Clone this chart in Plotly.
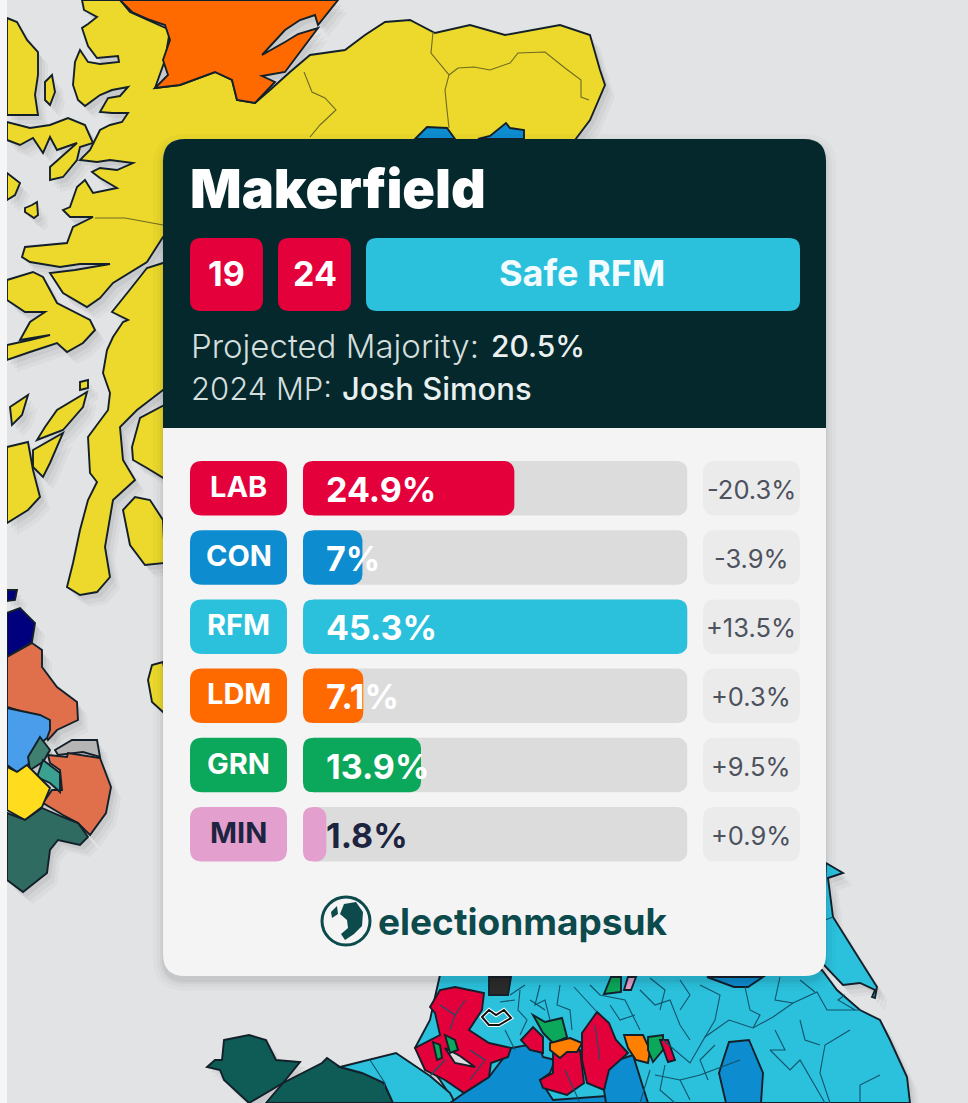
import plotly.graph_objects as go

# ---------- chart data ----------
parties = ["LAB", "CON", "RFM", "LDM", "GRN", "MIN"]
shares = [24.9, 7, 45.3, 7.1, 13.9, 1.8]
changes = ["-20.3%", "-3.9%", "+13.5%", "+0.3%", "+9.5%", "+0.9%"]
party_colors = ["#e4003b", "#0d8ccf", "#2bc1dd", "#ff6a00", "#0ba75a", "#e39fcd"]
label_colors = ["#ffffff", "#ffffff", "#ffffff", "#ffffff", "#ffffff", "#1d2440"]
seat_title = "Makerfield"
history = ["19", "24"]
rating = "Safe RFM"
majority = "20.5%"
mp_name = "Josh Simons"
brand = "electionmapsuk"

W, H = 968, 1103
TRACK_MAX = 45.3
MIN_BAR = 2.75
TRACK_L, TRACK_R = 303, 687.5
ROW_TOP, ROW_PITCH, ROW_H = 461, 69.2, 54.5
BAR_R = 10


def path(pts, close=True, dx=0, dy=0):
    s = "M" + " L".join(f"{x+dx},{y+dy}" for x, y in pts)
    return s + (" Z" if close else "")


def rrect(x0, y0, x1, y1, r, r_bottom=None):
    rb = r if r_bottom is None else r_bottom
    return (f"M{x0+r},{y0} L{x1-r},{y0} Q{x1},{y0} {x1},{y0+r} L{x1},{y1-rb} Q{x1},{y1} {x1-rb},{y1} "
            f"L{x0+rb},{y1} Q{x0},{y1} {x0},{y1-rb} L{x0},{y0+r} Q{x0},{y0} {x0+r},{y0} Z")


# ---------- decorative background map outlines ----------
YEL, CY, BL, OR, RD = "#ecd92c", "#2bc1dd", "#0d8ccf", "#ff6a00", "#e4003b"
regions = [
    # Scottish mainland, traced along the west coast
    (YEL, [(82,0),(84,10),(97,17),(88,24),(82,28),(88,46),(97,58),(118,56),(119,62),(100,64),(88,62),(80,50),(75,62),(73,85),
           (78,100),(85,106),(100,95),(112,90),(128,87),(120,96),(108,98),(100,112),(112,113),(128,113),(122,122),(110,125),(100,130),
           (90,150),(80,160),(97,162),(110,160),(133,163),(117,170),(100,168),(92,172),(100,178),(117,188),(93,193),(85,180),(77,187),
           (70,207),(63,210),(70,217),(93,217),(73,227),(67,243),(25,247),(22,257),(30,262),(60,267),(80,264),(110,264),(75,270),(50,273),
           (63,293),(87,307),(100,298),(113,283),(147,262),(163,237),(170,238),(170,262),(163,263),(147,268),(128,292),(112,312),(128,320),(123,322),
           (113,337),(107,350),(103,373),(110,393),(108,410),(88,437),(90,473),(97,482),(88,500),(80,530),(73,563),(67,587),(80,595),(97,592),
           (110,577),(105,547),(113,500),(135,480),(123,460),(120,427),(137,410),(163,390),(170,392),(170,402),(140,418),(132,447),(133,460),(147,468),(170,482),
           (600,140),(575,140),(590,120),(605,85),(600,70),(590,35),(560,25),(505,35),(470,25),(435,33),(410,20),(385,22),(365,35),
           (345,50),(310,55),(290,72),(270,90),(255,103),(237,100),(232,80),(215,72),(180,85),(155,88),(165,60),(170,30),(130,12),(120,0)]),
    (OR, [(120,0),(132,12),(150,20),(165,25),(170,40),(163,60),(168,75),(155,88),(180,85),(215,72),(232,80),(237,100),(255,103),
          (275,82),(262,76),(285,72),(300,52),(318,28),(298,34),(285,42),(262,55),(285,30),(300,20),(315,15),(318,25),(338,0)]),
    (BL, [(415,139),(427,127),(447,128),(455,139)]),
    (BL, [(478,139),(490,136),(506,123),(510,128),(524,130),(524,139)]),
    # Western isles
    (YEL, [(7,18),(17,22),(27,40),(38,52),(38,75),(35,95),(38,115),(7,115)]),
    (YEL, [(45,82),(52,75),(55,92),(50,105),(45,100)]),
    (YEL, [(7,140),(20,145),(33,138),(43,153),(50,137),(57,150),(77,143),(50,167),(50,180),(63,177),(77,160),(80,147),(93,143),(85,125),(68,118),(50,125),(30,128),(7,122)]),
    (YEL, [(7,173),(20,183),(15,195),(7,200)]),
    (YEL, [(25,208),(32,205),(37,202),(38,215),(34,218),(25,212)]),
    (YEL, [(7,280),(33,272),(43,277),(57,303),(90,320),(95,330),(83,343),(67,352),(57,343),(30,352),(7,360),(7,345),(30,340),(50,335),(20,340),(30,322),(45,312),(25,312),(7,300)]),
    (YEL, [(80,382),(88,380),(88,388),(80,390)]),
    (YEL, [(45,427),(57,410),(87,392),(83,407),(63,430),(37,440)]),
    (YEL, [(33,450),(63,433),(50,463),(43,477),(33,467)]),
    (YEL, [(7,447),(28,442),(33,470),(40,497),(28,510),(7,523)]),
    (YEL, [(10,407),(28,395),(22,415),(12,425)]),
    # Arran and Bute
    (YEL, [(123,510),(135,497),(150,500),(163,520),(165,563),(145,565),(130,545)]),
    (YEL, [(148,680),(152,665),(163,662),(170,700),(163,712),(152,702)]),
    # Northern Ireland
    ("#00007e", [(7,590),(17,590),(15,600),(7,601)]),
    ("#00007e", [(7,613),(20,608),(35,623),(32,642),(7,657)]),
    ("#e0704c", [(7,657),(32,643),(42,650),(42,667),(57,687),(77,702),(78,720),(57,730),(48,740),(40,717),(7,707)]),
    ("#4a9dea", [(7,708),(40,715),(50,720),(50,730),(47,738),(33,750),(28,765),(17,772),(7,765)]),
    ("#3f8070", [(40,737),(50,750),(43,762),(30,770),(28,757)]),
    ("#b5b5b5", [(55,750),(72,740),(97,740),(100,757),(83,752),(58,755)]),
    ("#e0704c", [(48,755),(67,757),(68,753),(100,758),(111,787),(106,813),(90,835),(78,823),(63,815),(43,803),(52,790),(62,790),(60,770),(50,763)]),
    ("#3aa090", [(43,760),(60,773),(60,792),(50,783),(37,777)]),
    ("#ffdc1e", [(7,767),(17,772),(27,765),(35,773),(50,788),(42,807),(25,820),(7,810)]),
    ("#2f6b60", [(7,813),(25,820),(42,808),(63,817),(78,823),(88,837),(80,845),(58,840),(50,850),(47,873),(23,892),(7,880)]),
    # England and Wales
    (CY, [(826,863),(843,873),(828,878),(833,917),(860,960),(877,987),(875,998),(872,997),(875,990),(860,983),(843,985),(822,963)]),
    (CY, [(440,975),(822,970),(837,990),(860,1010),(880,1020),(890,1040),(907,1077),(910,1103),(455,1103),(440,1080),(415,1048),(430,1020),(435,997)]),
    ("#0e5c55", [(224,1040),(249,1035),(266,1040),(276,1060),(300,1062),(283,1083),(249,1103),(224,1080),(220,1070),(207,1067),(215,1060),(222,1060)]),
    ("#0e5c55", [(266,1103),(283,1083),(322,1063),(327,1058),(340,1067),(362,1073),(384,1083),(393,1103)]),
    (CY, [(340,1067),(396,1053),(430,1076),(450,1093),(455,1103),(393,1103),(384,1083),(362,1073)]),
    (BL, [(489,1077),(511,1048),(538,1043),(543,1057),(555,1060),(550,1073),(540,1080),(553,1100),(606,1096),(606,1103),(450,1103),(464,1093)]),
    (BL, [(609,1063),(633,1055),(648,1103),(606,1103),(604,1090)]),
    (BL, [(729,1042),(749,1040),(763,1073),(761,1103),(726,1103),(719,1073)]),
    (BL, [(707,977),(763,977),(748,987),(734,987)]),
    ("#0ba75a", [(611,977),(621,977),(621,992),(604,994)]),
    ("#e39fcd", [(628,977),(636,977),(631,990),(624,990)]),
    ("#2b2b2b", [(489,977),(511,977),(508,995),(489,995)]),
    (RD, [(430,1007),(440,990),(455,987),(484,993),(482,1010),(469,1030),(489,1043),(511,1048),(508,1057),(491,1063),(489,1077),(464,1093),(445,1080),(425,1070),(415,1048),(440,1035),(435,1013)]),
    ("#dcdcdc", [(445,1048),(455,1063),(475,1067),(460,1056)]),
    ("#0ba75a", [(433,1042),(440,1045),(442,1058),(437,1060)]),
    ("#0ba75a", [(445,1035),(455,1040),(458,1050),(450,1053)]),
    (RD, [(521,1040),(533,1027),(543,1037),(543,1053),(530,1050)]),
    (RD, [(582,1033),(597,1012),(609,1023),(616,1040),(628,1053),(609,1070),(604,1090),(587,1083),(582,1060)]),
    (RD, [(553,1053),(580,1050),(584,1083),(567,1095),(543,1088),(540,1080),(553,1073)]),
    ("#0ba75a", [(533,1015),(545,1022),(562,1018),(567,1037),(553,1043),(543,1033)]),
    ("#ff8000", [(570,1038),(582,1043),(577,1052),(567,1052),(560,1058),(550,1050),(550,1043)]),
    ("#ff8000", [(624,1035),(643,1035),(650,1050),(648,1063),(636,1060),(628,1048)]),
    ("#0ba75a", [(648,1037),(663,1035),(663,1050),(653,1062),(648,1050)]),
    (RD, [(660,1040),(668,1040),(675,1060),(668,1062)]),
]
# constituency boundaries
yellow_borders = [
    [(433,32),(431,53),(449,75),(445,90),(447,110),(449,128)],
    [(449,75),(458,68),(474,67),(490,70),(510,63),(518,53),(545,52),(565,68),(581,80),(581,97),(589,100)],
    [(304,72),(312,92),(325,98),(336,110),(320,125),(310,137)],
    [(95,218),(125,218),(163,225)],
]
cyan_borders = [
    [(574,987),(597,1012)],
    [(663,1040),(690,1063),(705,1037),(729,1020),(753,1028),(773,1017),(793,1003),(817,992),(827,1010),(861,1010)],
    [(540,985),(535,1005),(545,1000),(550,1020)],[(560,985),(557,1005),(570,1010),(572,1030)],
    [(520,990),(518,1010),(527,1020),(520,1035)],[(590,985),(600,995),(625,1000),(640,1030)],
    [(640,990),(655,1005),(670,1000),(680,1025),(690,1040)],[(700,985),(720,995),(715,1020),(705,1037)],
    [(745,987),(750,1010),(760,1015),(753,1028)],[(780,977),(775,1000),(793,1003)],
    [(800,980),(815,992)],[(850,1030),(825,1045),(820,1073),(830,1103)],[(880,1075),(860,1085),(860,1103)],
    [(770,1050),(790,1070),(800,1060),(825,1103)],[(680,1080),(690,1100)],[(665,1065),(660,1090),(675,1103)],
    [(640,1103),(650,1070)],[(700,1075),(740,1060)],[(833,917),(812,925)],[(855,1010),(838,1000),(845,995)],
    [(580,1103),(565,1070)],[(505,1030),(515,1050)],[(510,995),(525,985)],
    [(430,1076),(445,1060)],[(370,1060),(385,1083),(382,1100)],
    [(440,1005),(455,1015),(450,1030)],[(465,1000),(455,1015)],[(470,1050),(485,1060),(470,1080)],[(595,1025),(600,1060)],
    [(650,978),(665,990),(660,1010)],[(680,980),(690,995),(680,1010)],[(610,1005),(620,1020),(635,1015)],
    [(715,1045),(700,1060),(708,1080)],[(775,1030),(785,1050),(770,1050)],[(800,1020),(805,1040),(820,1045)],
    [(655,1075),(680,1080),(700,1075)],[(530,1000),(545,1010)],[(500,1002),(515,1000)],
]

shapes = []
shapes.append(dict(type="rect", xref="x", yref="y", x0=0, x1=W, y0=0, y1=H, fillcolor="#e2e3e4", line_width=0, layer="below"))
for off, op in [((10, 12), 0.03), ((7, 9), 0.045), ((4, 5), 0.06)]:
    for _, pts in regions:
        shapes.append(dict(type="path", xref="x", yref="y", path=path(pts, dx=off[0], dy=off[1]),
                           fillcolor=f"rgba(40,40,45,{op})", line_width=0, layer="below"))
for col, pts in regions:
    shapes.append(dict(type="path", xref="x", yref="y", path=path(pts), fillcolor=col,
                       line=dict(color="#13202a", width=1.9), layer="below"))
for b in yellow_borders:
    shapes.append(dict(type="path", xref="x", yref="y", path=path(b, close=False), line=dict(color="#6e6a22", width=1.1), layer="below"))
for b in cyan_borders:
    shapes.append(dict(type="path", xref="x", yref="y", path=path(b, close=False), line=dict(color="#12536a", width=1.1), layer="below"))
highlight = [(482,1017),(489,1010),(496,1015),(504,1010),(511,1018),(499,1025),(489,1025)]
shapes.append(dict(type="path", xref="x", yref="y", path=path(highlight), line=dict(color="#ffffff", width=4), layer="below"))
shapes.append(dict(type="path", xref="x", yref="y", path=path(highlight), line=dict(color="#111111", width=2), layer="below"))
shapes.append(dict(type="rect", xref="x", yref="y", x0=0, x1=7, y0=0, y1=H, fillcolor="#f6f6f6", line_width=0, layer="below"))

# card
CL, CR, CT, CB, CM = 163, 826, 139, 976, 428
CARD = "#f4f4f5"
for g, op in [(10, 0.018), (6, 0.025), (3, 0.035), (1, 0.05)]:
    shapes.append(dict(type="path", xref="x", yref="y", path=rrect(CL-g, CT-g+5, CR+g, CB+g+5, 22+g),
                       fillcolor=f"rgba(20,20,25,{op})", line_width=0, layer="below"))
shapes.append(dict(type="path", xref="x", yref="y", path=rrect(CL, CT, CR, CB, 22), fillcolor=CARD, line_width=0, layer="below"))
shapes.append(dict(type="path", xref="x", yref="y", path=rrect(CL, CT, CR, CM, 22, 0.01), fillcolor="#04282b", line_width=0, layer="below"))
BT, BB = 238, 311
shapes.append(dict(type="path", xref="x", yref="y", path=rrect(190, BT, 263, BB, 11), fillcolor=party_colors[0], line_width=0, layer="below"))
shapes.append(dict(type="path", xref="x", yref="y", path=rrect(278, BT, 351, BB, 11), fillcolor=party_colors[0], line_width=0, layer="below"))
shapes.append(dict(type="path", xref="x", yref="y", path=rrect(366, BT, 800, BB, 11), fillcolor=party_colors[2], line_width=0, layer="below"))

row_tops = [ROW_TOP + ROW_PITCH * i for i in range(len(parties))]
for top, col in zip(row_tops, party_colors):
    shapes.append(dict(type="path", xref="x", yref="y", path=rrect(190, top, 287, top + ROW_H, 12), fillcolor=col, line_width=0, layer="below"))
    shapes.append(dict(type="path", xref="x", yref="y", path=rrect(703, top, 800, top + ROW_H, 12), fillcolor="#ebebec", line_width=0, layer="below"))
    # round the left end of the bar track (bars only round their far end)
    t, b, x, r = top, top + ROW_H, TRACK_L, BAR_R
    shapes.append(dict(type="path", xref="x", yref="y", path=f"M{x-1},{t-1} L{x+r},{t-1} L{x+r},{t} Q{x},{t} {x},{t+r} L{x-1},{t+r} Z", fillcolor=CARD, line_width=0, layer="above"))
    shapes.append(dict(type="path", xref="x", yref="y", path=f"M{x-1},{b+1} L{x+r},{b+1} L{x+r},{b} Q{x},{b} {x},{b-r} L{x-1},{b-r} Z", fillcolor=CARD, line_width=0, layer="above"))

LOGO = "#0d4a4c"
shapes.append(dict(type="circle", xref="x", yref="y", x0=322, x1=370, y0=897, y1=945, fillcolor=CARD, line=dict(color=LOGO, width=3), layer="below"))
shapes.append(dict(type="path", xref="x", yref="y", path=path([(344,904),(356,902),(363,912),(362,926),(354,934),(345,940),(341,934),(348,928),(347,920),(340,914)]), fillcolor=LOGO, line_width=0, layer="below"))
shapes.append(dict(type="path", xref="x", yref="y", path=path([(331,912),(337,906),(338,914),(332,918)]), fillcolor=LOGO, line_width=0, layer="below"))

annotations = []


def text(x, y, s, size, color, family="Inter", weight=400, anchor="left"):
    annotations.append(dict(x=x, y=y, xref="x", yref="y", text=s, showarrow=False, xanchor=anchor, yanchor="middle",
                            font=dict(family=family, size=size, color=color, weight=weight), align=anchor))


text(188, 188, seat_title, 54, "#ffffff", weight=900)
text(226.5, 273, history[0], 34, "#ffffff", weight=700, anchor="center")
text(314.5, 273, history[1], 34, "#ffffff", weight=700, anchor="center")
text(582, 273, rating, 36, "#f2fbfd", weight=700, anchor="center")
text(189, 346, "Projected Majority:", 33, "#d3dedd", weight=300)
text(489, 346, majority, 30, "#e9f0ef", weight=500)
text(189, 388, "2024 MP:", 31, "#d3dedd", weight=300)
text(340, 388, mp_name, 31, "#e9f0ef", weight=500)
for i, top in enumerate(row_tops):
    mid = top + ROW_H / 2
    text(238.5, mid - 2, parties[i], 29, label_colors[i], weight=700, anchor="center")
    text(324, mid + 1, f"{shares[i]:g}%", 34, label_colors[i], weight=700)
    text(751, mid + 1, changes[i], 25.5, "#4c525e", weight=400, anchor="center")
text(376, 921, brand, 37, LOGO, family="Inter", weight=700)

fig = go.Figure()
fig.add_trace(go.Scatter(x=[None], y=[None], xaxis="x", yaxis="y", showlegend=False, hoverinfo="skip"))
# the grey track lives on its own axes so that plotly still rounds the shorter value bars
fig.add_trace(go.Bar(orientation="h", y=parties, x=[TRACK_MAX] * len(parties), xaxis="x2", yaxis="y2",
                     marker=dict(color="#dcdcdc", cornerradius=BAR_R, line_width=0), showlegend=False, hoverinfo="skip"))
fig.add_trace(go.Bar(orientation="h", y=parties, x=[max(v, MIN_BAR) for v in shares], xaxis="x3", yaxis="y3",
                     marker=dict(color=party_colors, cornerradius=BAR_R, line_width=0), showlegend=False,
                     customdata=shares, hovertemplate="%{y}: %{customdata}%<extra></extra>"))

band_top = ROW_TOP - (ROW_PITCH - ROW_H) / 2
band_bot = band_top + ROW_PITCH * len(parties)
x_dom = [TRACK_L / W, TRACK_R / W]
y_dom = [1 - band_bot / H, 1 - band_top / H]
cat_axis = dict(type="category", categoryorder="array", categoryarray=parties, range=[len(parties) - 0.5, -0.5],
                visible=False, domain=y_dom, fixedrange=True)
fig.update_layout(
    width=W, height=H, margin=dict(l=0, r=0, t=0, b=0, pad=0), paper_bgcolor="#e2e3e4", plot_bgcolor="rgba(0,0,0,0)",
    barmode="overlay", bargap=1 - ROW_H / ROW_PITCH, showlegend=False, shapes=shapes, annotations=annotations,
    xaxis=dict(range=[0, W], visible=False, domain=[0, 1], fixedrange=True),
    yaxis=dict(range=[H, 0], visible=False, domain=[0, 1], fixedrange=True),
    xaxis2=dict(range=[0, TRACK_MAX], visible=False, domain=x_dom, anchor="y2", fixedrange=True),
    yaxis2=dict(anchor="x2", **cat_axis),
    xaxis3=dict(range=[0, TRACK_MAX], visible=False, domain=x_dom, anchor="y3", fixedrange=True),
    yaxis3=dict(anchor="x3", **cat_axis),
)
fig.write_html("out.html", config=dict(displayModeBar=False),
               post_script="document.body.style.margin='0';document.body.style.background='#e2e3e4';")
